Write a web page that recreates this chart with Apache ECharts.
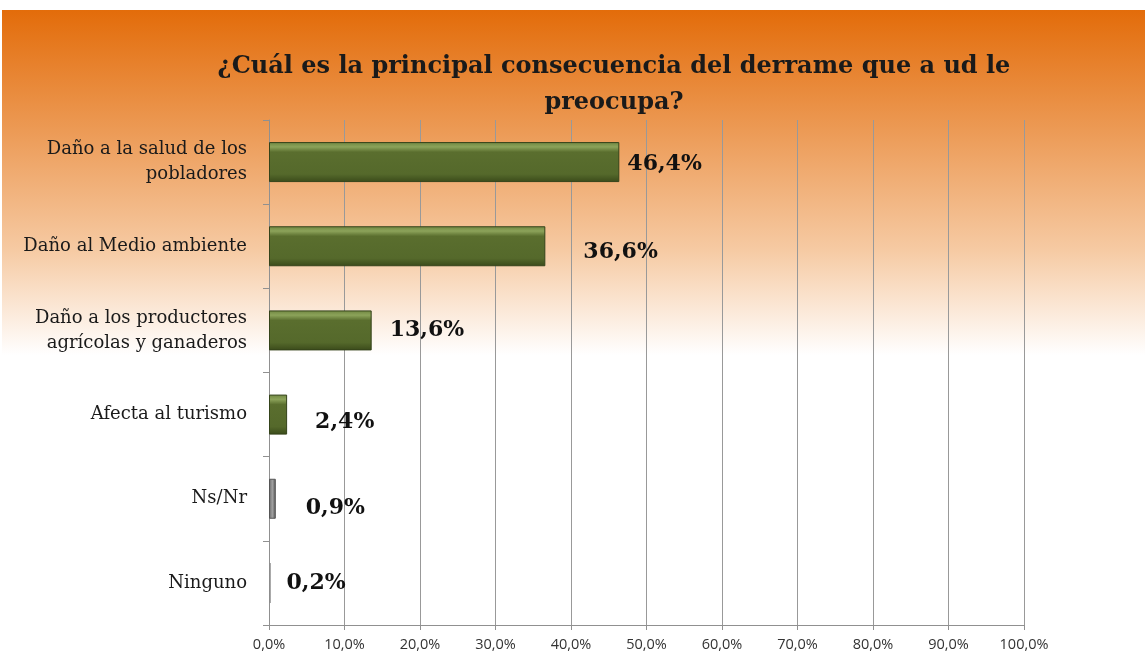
<!DOCTYPE html>
<html>
<head>
<meta charset="utf-8">
<script src="https://cdn.jsdelivr.net/npm/echarts@6/dist/echarts.min.js"></script>
<style>
  html, body { margin: 0; padding: 0; background: #fff; }
  #wrap {
    position: absolute; left: 2px; top: 10px; width: 1143px; height: 644px;
    background: linear-gradient(to bottom, #e36c0a 0px, #ec9a55 120px, #f6caa3 240px, #ffffff 345px, #ffffff 100%);
  }
  #chart { position: absolute; left: 0; top: 0; width: 1145px; height: 654px; }
</style>
</head>
<body>
<div id="wrap"></div>
<div id="chart"></div>
<script>
// datos
const categories = [
  'Daño a la salud de los\npobladores',
  'Daño al Medio ambiente',
  'Daño a los productores\nagrícolas y ganaderos',
  'Afecta al turismo',
  'Ns/Nr',
  'Ninguno',
]
const values = [46.4, 36.6, 13.6, 2.4, 0.9, 0.2]
const xTicks = [0, 10, 20, 30, 40, 50, 60, 70, 80, 90, 100]

// estilo
const greenBar = new echarts.graphic.LinearGradient(0, 0, 0, 1, [
  { offset: 0, color: '#6f8640' },
  { offset: 0.12, color: '#8ca35a' },
  { offset: 0.25, color: '#5a6e2e' },
  { offset: 0.8, color: '#55692b' },
  { offset: 1, color: '#3a4a1a' },
])
const grayBar = new echarts.graphic.LinearGradient(1, 0, 0, 0, [
  { offset: 0, color: '#555' },
  { offset: 0.5, color: '#a0a0a0' },
  { offset: 1, color: '#666' },
])
const labelOffsets = [[0, 2], [30, 6], [10, 0], [20, 8], [22, 10], [8, 0]]

const fmt = (v) => v.toFixed(1).replace('.', ',') + '%'

const chart = echarts.init(document.getElementById('chart'))
chart.setOption({
  backgroundColor: 'transparent',
  animation: false,
  title: {
    text: '¿Cuál es la principal consecuencia del derrame que a ud le\npreocupa?',
    left: 609,
    textAlign: 'center',
    top: 44,
    textStyle: {
      fontFamily: 'DejaVu Serif',
      fontWeight: 'bold',
      fontSize: 24,
      lineHeight: 36,
      color: '#1a1a1a',
    },
  },
  grid: { left: 269, right: 121, top: 120, bottom: 29 },
  xAxis: {
    type: 'value',
    min: 0,
    max: 100,
    interval: 10,
    axisLine: { show: true, lineStyle: { color: '#909090' } },
    axisTick: { show: true, length: 5, lineStyle: { color: '#909090' } },
    splitLine: { show: true, lineStyle: { color: '#999', width: 1 } },
    axisLabel: {
      formatter: (v) => (xTicks.includes(v) ? fmt(v) : ''),
      fontFamily: 'Open Sans',
      fontSize: 14.5,
      color: '#333',
      margin: 12,
    },
  },
  yAxis: {
    type: 'category',
    inverse: true,
    data: categories,
    axisLine: { show: true, lineStyle: { color: '#909090' } },
    axisTick: { show: true, length: 6, lineStyle: { color: '#909090' } },
    axisLabel: {
      fontFamily: 'DejaVu Serif',
      fontSize: 18,
      lineHeight: 25,
      color: '#1a1a1a',
      margin: 22,
    },
  },
  series: [
    {
      type: 'bar',
      barWidth: 40,
      data: values.map((v, i) => ({
        value: v,
        itemStyle: {
          color: i >= 4 ? grayBar : greenBar,
          borderColor: i >= 4 ? '#555' : '#34431a',
          borderWidth: v < 0.5 ? 0 : 1,
        },
        label: { offset: labelOffsets[i] },
      })),
      label: {
        show: true,
        position: 'right',
        distance: 8,
        formatter: (p) => fmt(p.value),
        fontFamily: 'DejaVu Serif',
        fontWeight: 'bold',
        fontSize: 22,
        color: '#111',
      },
    },
  ],
})
</script>
</body>
</html>
